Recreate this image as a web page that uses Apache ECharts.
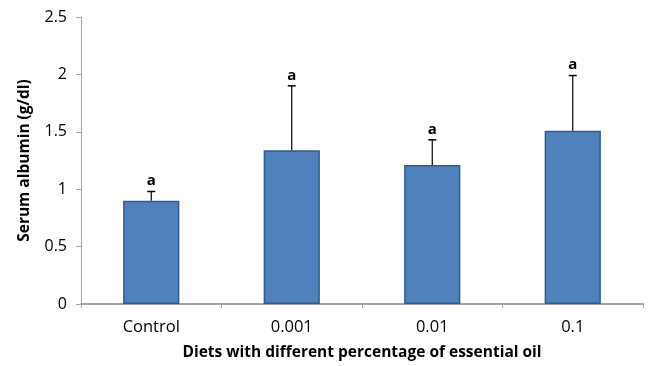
<!DOCTYPE html>
<html>
<head>
<meta charset="utf-8">
<script src="https://cdn.jsdelivr.net/npm/echarts@6/dist/echarts.min.js"></script>
<style>
  html, body { margin: 0; padding: 0; background: #fff; }
  #chart { width: 649px; height: 366px; }
</style>
</head>
<body>
<div id="chart"></div>
<script>
// Serum albumin by dietary essential-oil level
const categories = ['Control', '0.001', '0.01', '0.1'];
const means = [0.90, 1.34, 1.21, 1.51];
const errorUpper = [0.98, 1.90, 1.43, 1.99];
const groupLetters = ['a', 'a', 'a', 'a'];
const yTicks = [0, 0.5, 1, 1.5, 2, 2.5];

const FONT = '"Open Sans", Lato, sans-serif';
const chart = echarts.init(document.getElementById('chart'));

chart.setOption({
  animation: false,
  grid: { left: 81, right: 6, top: 17, bottom: 60 },
  xAxis: {
    type: 'category',
    data: categories,
    name: 'Diets with different percentage of essential oil',
    nameLocation: 'middle',
    nameGap: 41,
    nameTextStyle: { fontFamily: FONT, fontWeight: 'bold', fontSize: 15.5, color: '#000' },
    axisLine: { lineStyle: { color: '#a6a6a6', width: 2 } },
    axisTick: { show: true, alignWithLabel: false, length: 4, lineStyle: { color: '#a6a6a6' } },
    axisLabel: { fontFamily: FONT, fontSize: 16.5, color: '#000', margin: 15 }
  },
  yAxis: {
    type: 'value',
    min: yTicks[0],
    max: yTicks[yTicks.length - 1],
    interval: 0.5,
    name: 'Serum albumin (g/dl)',
    nameLocation: 'middle',
    nameGap: 48,
    nameTextStyle: { fontFamily: FONT, fontWeight: 'bold', fontSize: 15.5, color: '#000' },
    splitLine: { show: false },
    axisLine: { show: true, lineStyle: { color: '#a6a6a6', width: 1 } },
    axisTick: { show: true, length: 5, lineStyle: { color: '#a6a6a6' } },
    axisLabel: { fontFamily: FONT, fontSize: 16, color: '#000', margin: 14 }
  },
  series: [
    {
      type: 'bar',
      data: means,
      barWidth: '40%',
      itemStyle: { color: '#4f81bd', borderColor: '#2e5c90', borderWidth: 1.5 },
      z: 2
    },
    {
      type: 'custom',
      z: 3,
      data: categories.map((c, i) => [i, means[i], errorUpper[i]]),
      renderItem: function (params, api) {
        const base = api.coord([api.value(0), api.value(1)]);
        const top = api.coord([api.value(0), api.value(2)]);
        const x = base[0];
        const half = 4;
        const letter = groupLetters[params.dataIndex];
        return {
          type: 'group',
          children: [
            { type: 'line', shape: { x1: x, y1: base[1], x2: x, y2: top[1] },
              style: { stroke: '#000', lineWidth: 1.2 } },
            { type: 'line', shape: { x1: x - half, y1: top[1], x2: x + half, y2: top[1] },
              style: { stroke: '#000', lineWidth: 1.5 } },
            { type: 'text', x: x, y: top[1] - 3,
              style: { text: letter, align: 'center', verticalAlign: 'bottom',
                       font: 'bold 15px ' + FONT, fill: '#000' } }
          ]
        };
      }
    }
  ]
});
</script>
</body>
</html>
